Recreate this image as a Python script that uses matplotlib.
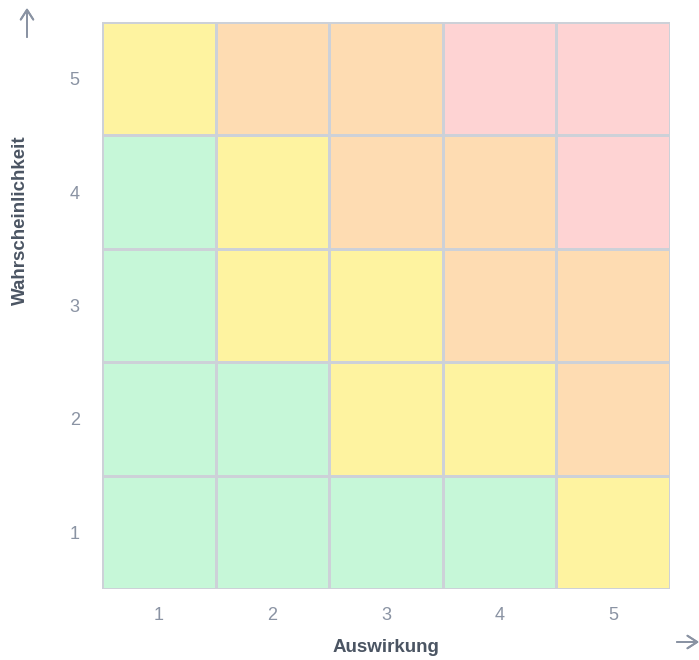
import numpy as np
import matplotlib.pyplot as plt
from matplotlib.colors import ListedColormap, BoundaryNorm

plt.rcParams['font.family'] = ['Liberation Sans', 'DejaVu Sans']

impact = [1, 2, 3, 4, 5]
likelihood = [1, 2, 3, 4, 5]
# risk level per cell, rows = likelihood 1..5, cols = impact 1..5
# 1 = low (green), 2 = medium (yellow), 3 = high (orange), 4 = critical (red)
levels = [
    [1, 1, 1, 1, 2],
    [1, 1, 2, 2, 3],
    [1, 2, 2, 3, 3],
    [1, 2, 3, 3, 4],
    [2, 3, 3, 4, 4],
]
level_colors = ['#c6f7d8', '#fef3a0', '#fedcb2', '#fed3d3']

W, H = 699, 660
fig = plt.figure(figsize=(W / 100, H / 100), dpi=100)
ax = fig.add_axes([102 / W, 71 / H, 568 / W, 567 / H])

cmap = ListedColormap(level_colors)
norm = BoundaryNorm([0.5, 1.5, 2.5, 3.5, 4.5], cmap.N)
xe = np.arange(len(impact) + 1) + 0.5
ye = np.arange(len(likelihood) + 1) + 0.5
ax.pcolormesh(xe, ye, np.array(levels), cmap=cmap, norm=norm,
              edgecolors='#cdd1d8', linewidth=0.75)

ax.set_xlim(0.5, 5.5)
ax.set_ylim(0.5, 5.5)
ax.set_xticks(impact)
ax.set_yticks(likelihood)
ax.tick_params(length=0, labelsize=13, labelcolor='#8a93a3')
ax.tick_params(axis='x', pad=13)
ax.tick_params(axis='y', pad=16)
for s in ax.spines.values():
    s.set_visible(False)

fig.text(386 / W, 1 - 648 / H, 'Auswirkung', ha='center', va='center',
         fontsize=13.5, fontweight='bold', color='#4b5563')
fig.text(20 / W, 1 - 220 / H, 'Wahrscheinlichkeit', ha='center', va='center',
         rotation=90, fontsize=13.5, fontweight='bold', color='#4b5563')

# axis arrows
arrow = dict(arrowstyle='->,head_length=0.7,head_width=0.45', color='#8a93a3',
             lw=1.4, shrinkA=0, shrinkB=0)
fig.add_artist(plt.annotate('', xy=(27, H - 8), xytext=(27, H - 37),
                            xycoords='figure pixels', textcoords='figure pixels',
                            arrowprops=arrow))
fig.add_artist(plt.annotate('', xy=(699, H - 642), xytext=(677, H - 642),
                            xycoords='figure pixels', textcoords='figure pixels',
                            arrowprops=arrow))

fig.savefig('out.png', dpi=100)
